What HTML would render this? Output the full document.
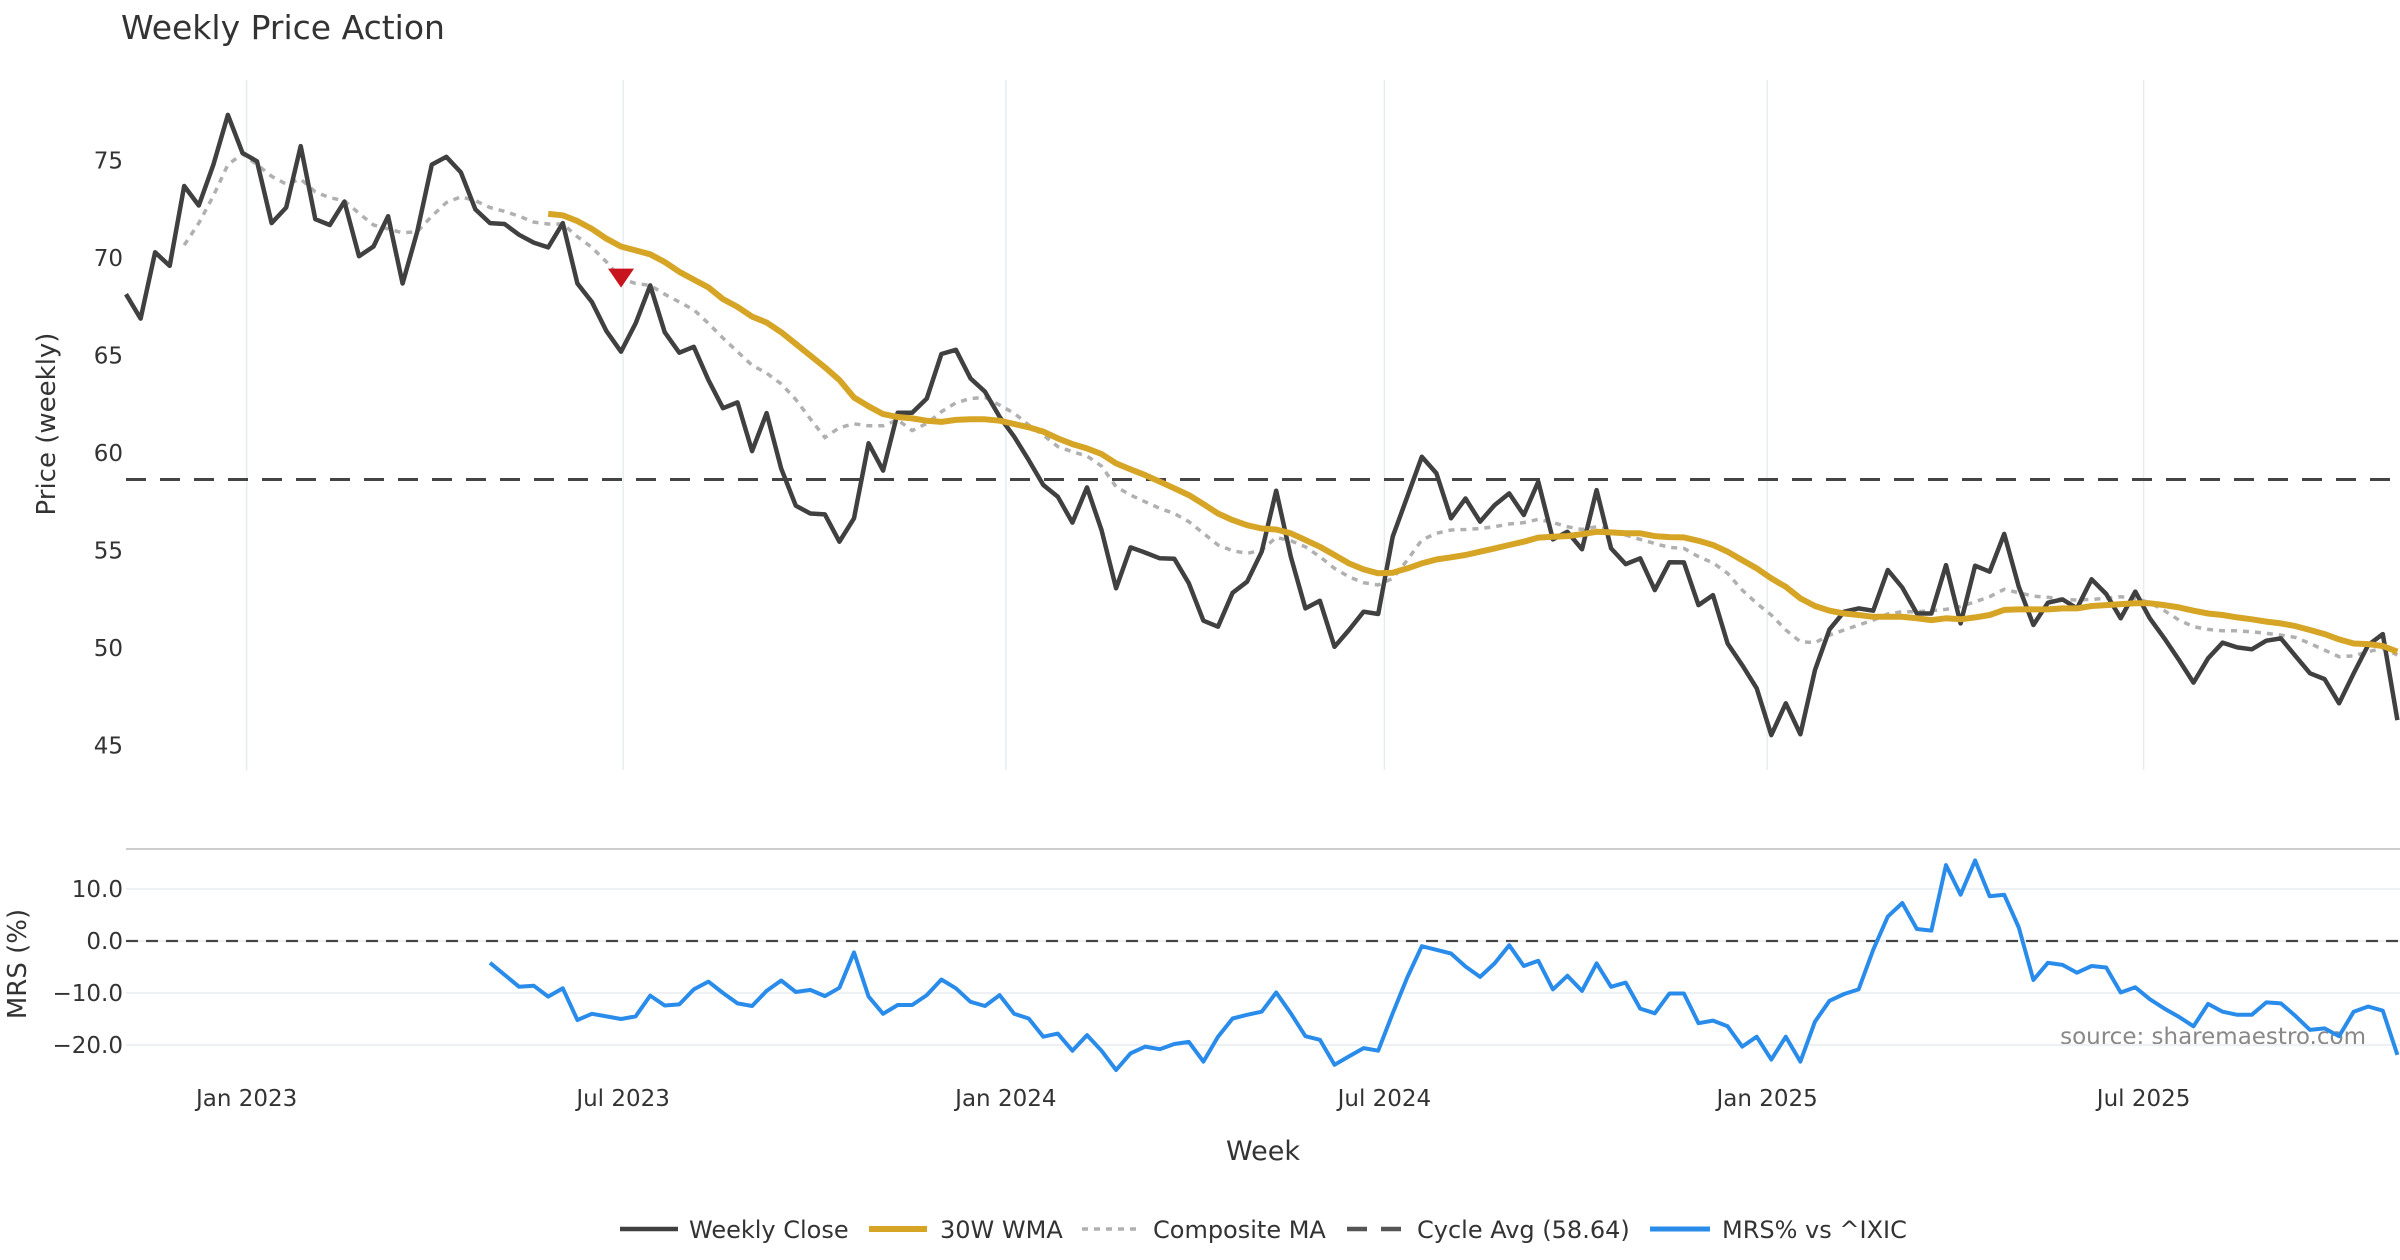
<!DOCTYPE html>
<html><head><meta charset="utf-8"><style>
html,body{margin:0;padding:0;background:#fff;}
svg{display:block;font-family:"DejaVu Sans","Liberation Sans",sans-serif;}
</style></head><body>
<svg id="chart" width="2400" height="1260" viewBox="0 0 2400 1260" xmlns="http://www.w3.org/2000/svg">
<text x="121" y="39" font-size="33" fill="#333">Weekly Price Action</text>
<text transform="translate(55,424) rotate(-90)" text-anchor="middle" font-size="26" fill="#333">Price (weekly)</text>
<text transform="translate(26,964) rotate(-90)" text-anchor="middle" font-size="26" fill="#333">MRS (%)</text>
<text x="1263" y="1160" text-anchor="middle" font-size="27" fill="#333">Week</text>
<text x="2366" y="1044" text-anchor="end" font-size="23" fill="#888">source: sharemaestro.com</text>
<g id="grid"></g><g id="series"></g><g id="legend"></g>
</svg>
<script>
const closeVals=[68.15,66.9,70.3,69.6,73.7,72.7,74.8,77.35,75.4,74.97,71.8,72.6,75.75,72.0,71.7,72.9,70.1,70.6,72.15,68.7,71.35,74.8,75.2,74.4,72.5,71.8,71.75,71.2,70.8,70.55,71.8,68.7,67.75,66.25,65.2,66.65,68.6,66.2,65.15,65.45,63.75,62.3,62.6,60.1,62.05,59.2,57.3,56.9,56.85,55.45,56.65,60.5,59.1,62.07,62.07,62.8,65.08,65.3,63.83,63.15,61.86,60.84,59.64,58.36,57.76,56.43,58.24,56.05,53.06,55.16,54.89,54.6,54.58,53.31,51.4,51.09,52.83,53.4,54.94,58.07,54.68,52.03,52.42,50.06,50.92,51.86,51.74,55.71,57.76,59.81,58.96,56.65,57.67,56.48,57.33,57.93,56.82,58.53,55.57,55.96,55.06,58.1,55.11,54.3,54.6,52.97,54.4,54.39,52.2,52.71,50.23,49.12,47.93,45.53,47.16,45.57,48.87,50.95,51.86,52.03,51.91,54.0,53.1,51.77,51.77,54.25,51.26,54.22,53.91,55.85,53.14,51.18,52.32,52.49,52.03,53.52,52.77,51.52,52.89,51.52,50.49,49.38,48.22,49.47,50.27,50.03,49.93,50.37,50.49,49.59,48.7,48.4,47.16,48.7,50.15,50.71,46.3];
const wmaStart=29;
const wmaVals=[72.27,72.2,71.9,71.5,71.0,70.6,70.4,70.2,69.8,69.3,68.9,68.5,67.9,67.5,67.0,66.7,66.2,65.6,65.0,64.4,63.75,62.85,62.4,62.0,61.85,61.78,61.66,61.6,61.7,61.73,61.73,61.66,61.49,61.32,61.1,60.75,60.46,60.24,59.95,59.47,59.16,58.87,58.53,58.19,57.84,57.38,56.9,56.56,56.3,56.13,56.08,55.88,55.54,55.19,54.77,54.34,54.03,53.83,53.86,54.08,54.34,54.54,54.65,54.77,54.94,55.11,55.28,55.45,55.66,55.71,55.74,55.84,55.96,55.93,55.88,55.88,55.74,55.69,55.67,55.5,55.28,54.94,54.51,54.08,53.57,53.14,52.54,52.15,51.91,51.77,51.69,51.6,51.6,51.6,51.52,51.43,51.52,51.47,51.57,51.69,51.95,51.98,51.98,51.98,52.03,52.03,52.15,52.2,52.25,52.29,52.29,52.2,52.08,51.91,51.77,51.69,51.57,51.47,51.35,51.26,51.12,50.92,50.71,50.44,50.23,50.2,50.1,49.81];
const compStart=4;
const compVals=[70.67,71.8,73.2,74.8,75.35,74.8,74.2,73.8,74.05,73.4,73.1,72.95,72.3,71.7,71.5,71.3,71.35,72.15,72.85,73.15,72.95,72.6,72.4,72.15,71.85,71.75,71.75,71.1,70.55,69.8,68.95,68.7,68.6,68.15,67.75,67.35,66.65,65.9,65.2,64.5,64.1,63.55,62.75,61.75,60.8,61.3,61.5,61.4,61.4,61.7,61.15,61.52,62.12,62.58,62.8,62.86,62.46,62.04,61.44,60.92,60.33,60.07,59.85,59.33,58.27,57.84,57.5,57.16,56.9,56.48,55.88,55.28,54.99,54.85,55.02,55.67,55.5,55.19,54.68,54.08,53.65,53.35,53.23,53.57,54.51,55.54,55.88,56.05,56.08,56.13,56.22,56.36,56.43,56.6,56.43,56.22,56.08,56.22,56.05,55.79,55.57,55.36,55.16,55.11,54.68,54.37,53.83,52.97,52.29,51.69,50.92,50.32,50.27,50.66,50.92,51.18,51.43,51.74,51.86,51.86,51.91,51.98,52.12,52.37,52.63,53.01,52.83,52.66,52.6,52.49,52.46,52.49,52.54,52.63,52.54,52.32,51.91,51.43,51.09,50.95,50.88,50.88,50.83,50.75,50.66,50.54,50.23,49.89,49.55,49.59,49.81,49.98,49.64];
const mrsStart=25;
const mrsVals=[-4.2,-6.5,-8.8,-8.6,-10.7,-9.1,-15.2,-14.0,-14.5,-15.0,-14.5,-10.5,-12.4,-12.2,-9.3,-7.8,-10.0,-12.0,-12.5,-9.6,-7.6,-9.8,-9.4,-10.6,-9.0,-2.2,-10.7,-14.0,-12.3,-12.3,-10.4,-7.4,-9.1,-11.7,-12.5,-10.4,-14.0,-14.9,-18.4,-17.8,-21.1,-18.1,-21.1,-24.8,-21.6,-20.3,-20.8,-19.8,-19.4,-23.2,-18.4,-14.9,-14.2,-13.6,-9.9,-13.9,-18.3,-19.0,-23.8,-22.2,-20.6,-21.1,-13.9,-7.0,-1.0,-1.7,-2.4,-4.9,-6.9,-4.3,-0.8,-4.8,-3.8,-9.3,-6.7,-9.6,-4.3,-8.8,-8.0,-13.0,-13.9,-10.1,-10.1,-15.8,-15.3,-16.4,-20.3,-18.4,-22.8,-18.4,-23.2,-15.5,-11.5,-10.2,-9.3,-1.7,4.7,7.3,2.3,2.0,14.6,8.9,15.5,8.6,8.9,2.6,-7.5,-4.2,-4.6,-6.1,-4.8,-5.1,-9.9,-8.9,-11.2,-13.0,-14.6,-16.4,-12.1,-13.6,-14.2,-14.2,-11.8,-12.0,-14.4,-17.1,-16.8,-18.3,-13.6,-12.6,-13.4,-21.9];
const cycleAvg=58.64;
const signalIdx=[34];
const signalVal=[69.0];
const priceTicks=[45,50,55,60,65,70,75];
const mrsTicks=[10,0,-10,-20];
const mrsTickLabels=["10.0","0.0","\u221210.0","\u221220.0"];
const dateTicks=["2023-01-01","2023-07-01","2024-01-01","2024-07-01","2025-01-01","2025-07-01"];
const dateTickLabels=["Jan 2023","Jul 2023","Jan 2024","Jul 2024","Jan 2025","Jul 2025"];
const firstWeek="2022-11-04";

const NS="http://www.w3.org/2000/svg";
const X0=126, DX=14.56;
const xIdx=i=>X0+i*DX;
const xDate=d=>X0+((Date.parse(d)-Date.parse(firstWeek))/86400000)/7*DX;
const yP=v=>160.7+(75-v)*19.49;
const yM=v=>941-v*5.2;
function mk(tag,attrs,parent){const e=document.createElementNS(NS,tag);for(const k in attrs)e.setAttribute(k,attrs[k]);parent.appendChild(e);return e;}
const grid=document.getElementById('grid'),ser=document.getElementById('series'),leg=document.getElementById('legend');

dateTicks.forEach((d,k)=>{const x=xDate(d);
 let g=mk('line',{x1:x,x2:x,y1:80,y2:770,stroke:'#e6edf0','stroke-width':1.5},grid);
 
 
 let t=mk('text',{x:x,y:1106,'text-anchor':'middle','font-size':23,fill:'#333'},grid);t.textContent=dateTickLabels[k];
 
 
});
priceTicks.forEach(v=>{let t=mk('text',{x:123,y:yP(v)+8,'text-anchor':'end','font-size':23,fill:'#333'},grid);t.textContent=v;
 
 });
let sep=mk('line',{x1:126,x2:2400,y1:849,y2:849,stroke:'#ccc','stroke-width':2},grid);


mrsTicks.forEach((v,k)=>{let l=mk('line',{x1:126,x2:2400,y1:yM(v),y2:yM(v),stroke:'#eef1f4','stroke-width':2},grid);
 
 
 let t=mk('text',{x:123,y:yM(v)+8,'text-anchor':'end','font-size':23,fill:'#333'},grid);t.textContent=mrsTickLabels[k];
 
 });
let z=mk('line',{x1:126,x2:2400,y1:yM(0),y2:yM(0),stroke:'#444','stroke-width':2.2,'stroke-dasharray':'12 8'},grid);



function path(vals,start,yf){return vals.map((v,i)=>(i?'L':'M')+xIdx(start+i).toFixed(1)+','+yf(v).toFixed(1)).join('');}
let ca=mk('line',{x1:126,x2:2400,y1:yP(cycleAvg),y2:yP(cycleAvg),stroke:'#444','stroke-width':3,'stroke-dasharray':'20 14'},ser);


let cp=mk('path',{d:path(compVals,compStart,yP),fill:'none',stroke:'#b0b0b0','stroke-width':3.5,'stroke-dasharray':'6 6'},ser);


let cl=mk('path',{d:path(closeVals,0,yP),fill:'none',stroke:'#404040','stroke-width':4.5,'stroke-linejoin':'round'},ser);


let wm=mk('path',{d:path(wmaVals,wmaStart,yP),fill:'none',stroke:'#d6a526','stroke-width':6,'stroke-linejoin':'round'},ser);


let mr=mk('path',{d:path(mrsVals,mrsStart,yM),fill:'none',stroke:'#2a8cea','stroke-width':4,'stroke-linejoin':'round'},ser);


signalIdx.forEach((si,k)=>{const x=xIdx(si),y=yP(signalVal[k]);
 let tr=mk('path',{d:`M${x-13},${y-9}L${x+13},${y-9}L${x},${y+10}Z`,fill:'#c8141c'},ser);
 
 });

const legItems=[["Weekly Close",620,58,689,'#404040',4.5,''],["30W WMA",869,58,940,'#d6a526',6,''],["Composite MA",1082,56,1153,'#b0b0b0',3.5,'6 6'],["Cycle Avg (58.64)",1347,54,1417,'#555',4.5,'20 14'],["MRS% vs ^IXIC",1650,60,1722,'#2a8cea',5,'']];
legItems.forEach(it=>{
 const g=mk('g',{},leg);
 
 
 const a={x1:it[1],x2:it[1]+it[2],y1:1229,y2:1229,stroke:it[4],'stroke-width':it[5]};if(it[6])a['stroke-dasharray']=it[6];
 mk('line',a,g);
 const t=mk('text',{x:it[3],y:1238,'font-size':24,fill:'#333'},g);t.textContent=it[0];
});
</script>
</body></html>
